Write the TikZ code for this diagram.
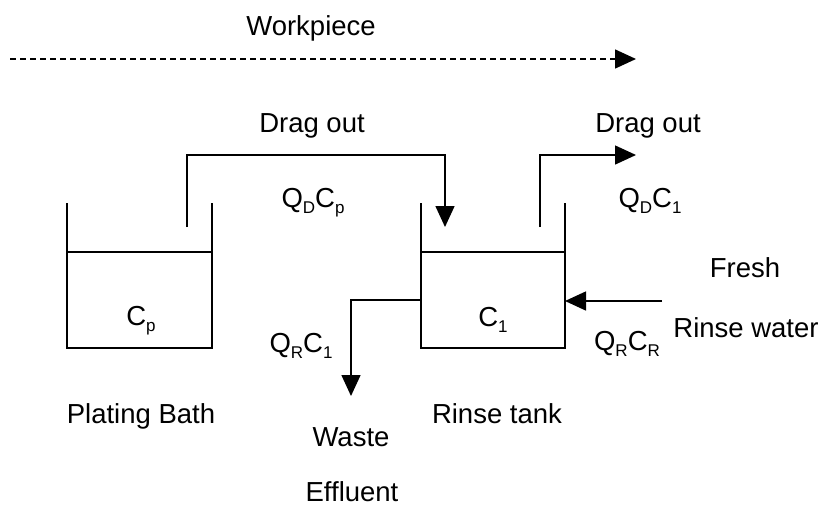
\documentclass[tikz,border=0pt]{standalone}
\usepackage{fontspec}
\setmainfont{Liberation Sans}
\usetikzlibrary{arrows.meta}
\newcommand\mysb[1]{\raisebox{-0.25em}{\fontsize{17}{17}\selectfont #1}}
\begin{document}
\begin{tikzpicture}[x=1pt,y=-1pt,line width=1.5pt,
  lbl/.style={font=\fontsize{27.5}{33}\selectfont, inner sep=0pt, anchor=base},
  flow/.style={-{Triangle[length=21pt,width=19pt]}, line width=1.5pt},
  tankline/.style={line width=1.5pt}]
\useasboundingbox (0,0) rectangle (823,507);

% tanks
\coordinate (pbTL) at (67,203);
\coordinate (pbBL) at (67,348);
\coordinate (pbBR) at (212,348);
\coordinate (pbTR) at (212,203);
\draw[tankline] (pbTL) -- (pbBL) -- (pbBR) -- (pbTR);
\draw[tankline] (67,252) -- (212,252);

\coordinate (rtTL) at (421,203);
\coordinate (rtBL) at (421,348);
\coordinate (rtBR) at (565,348);
\coordinate (rtTR) at (565,203);
\draw[tankline] (rtTL) -- (rtBL) -- (rtBR) -- (rtTR);
\draw[tankline] (421,252) -- (565,252);

% connectors
\coordinate (wps) at (10,59);
\coordinate (wpe) at (636,59);
\draw[flow,dash pattern=on 6pt off 4pt] (wps) -- (wpe);

\coordinate (d1s) at (187,227);
\coordinate (d1e) at (445,227);
\draw[flow] (d1s) -- (187,155) -| (d1e);

\coordinate (d2s) at (540,227);
\coordinate (d2e) at (636,155);
\draw[flow] (d2s) |- (d2e);

\coordinate (ws) at (421,300);
\coordinate (we) at (351,396);
\draw[flow] (ws) -| (we);

\coordinate (fs) at (662,301);
\coordinate (fe) at (565,301);
\draw[flow] (fs) -- (fe);

% labels
\node[lbl] (workpiece) at (311,35) {Workpiece};
\node[lbl] (drag1) at (312,132) {Drag out};
\node[lbl] (drag2) at (648,132) {Drag out};
\node[lbl] (qdcp) at (313,207) {Q\mysb{D}C\mysb{p}};
\node[lbl] (qdc1) at (650,207) {Q\mysb{D}C\mysb{1}};
\node[lbl] (cp) at (141,325) {C\mysb{p}};
\node[lbl] (c1) at (493,326) {C\mysb{1}};
\node[lbl] (qrc1) at (301,352) {Q\mysb{R}C\mysb{1}};
\node[lbl] (qrcr) at (627,350) {Q\mysb{R}C\mysb{R}};
\node[lbl] (fresh) at (745,277) {Fresh};
\node[lbl] (rinsew) at (746,337) {Rinse water};
\node[lbl] (plating) at (141,423) {Plating Bath};
\node[lbl] (rinset) at (497,423) {Rinse tank};
\node[lbl] (waste) at (351,446) {Waste};
\node[lbl] (effl) at (352,501) {Effluent};
\end{tikzpicture}
\end{document}
